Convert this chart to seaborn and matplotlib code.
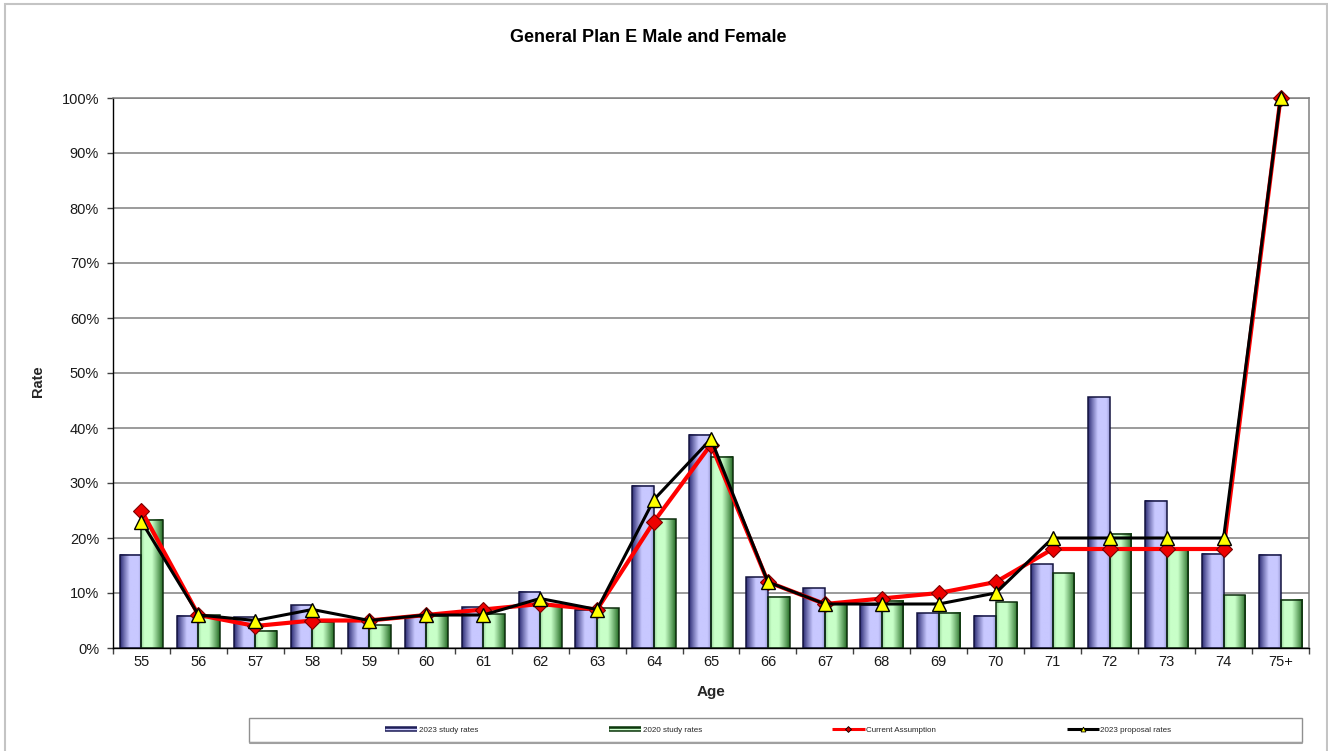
import numpy as np
import pandas as pd
import matplotlib
matplotlib.use("Agg")
import matplotlib.pyplot as plt
import seaborn as sns
from matplotlib.patches import Rectangle
from matplotlib.lines import Line2D
from matplotlib.legend_handler import HandlerTuple

# Retirement rates by age (percent)
ages = ["55", "56", "57", "58", "59", "60", "61", "62", "63", "64", "65",
        "66", "67", "68", "69", "70", "71", "72", "73", "74", "75+"]
study_2023 = [17.0, 5.9, 5.6, 7.8, 4.9, 5.8, 7.4, 10.2, 7.0, 29.5, 38.8,
              12.9, 10.9, 7.9, 6.3, 5.9, 15.2, 45.6, 26.8, 17.1, 17.0]
study_2020 = [23.3, 6.0, 3.1, 4.8, 4.1, 5.8, 6.1, 7.9, 7.2, 23.4, 34.8,
              9.3, 8.0, 8.6, 6.4, 8.3, 13.6, 20.8, 17.8, 9.6, 8.8]
current_assumption = [25, 6, 4, 5, 5, 6, 7, 8, 7, 23, 37,
                      12, 8, 9, 10, 12, 18, 18, 18, 18, 100]
proposal_2023 = [23, 6, 5, 7, 5, 6, 6, 9, 7, 27, 38,
                 12, 8, 8, 8, 10, 20, 20, 20, 20, 100]

series_names = ["2023 study rates", "2020 study rates"]
line_names = ["Current Assumption", "2023 proposal rates"]

sns.set_style("white")
plt.rcParams["font.family"] = ["Liberation Sans", "DejaVu Sans"]

W, H = 1328, 751
fig = plt.figure(figsize=(W / 100, H / 100), dpi=100)
fig.patch.set_facecolor("white")
ax = fig.add_axes([113 / W, 1 - 648 / H, (1309 - 113) / W, (648 - 98) / H])

bars = pd.DataFrame({
    "age": ages * 2,
    "rate": study_2023 + study_2020,
    "series": [series_names[0]] * len(ages) + [series_names[1]] * len(ages),
})
sns.barplot(data=bars, x="age", y="rate", hue="series", order=ages,
            hue_order=series_names, palette=["#c8c8ff", "#c8ffc8"],
            width=0.76, gap=0, linewidth=1.1, legend=False, ax=ax)

# Shaded (cylinder-like) fills for the bars
dark = {0: np.array([0x28, 0x28, 0x70]) / 255, 1: np.array([0x20, 0x68, 0x20]) / 255}
light = {0: np.array([0xc8, 0xc8, 0xff]) / 255, 1: np.array([0xc8, 0xff, 0xc8]) / 255}
edge = {0: "#141440", 1: "#0e2e0e"}
t = np.linspace(0, 1, 64)
profile = {
    0: np.clip(t / 0.45, 0, 1) ** 0.9 * (1 - 0.3 * np.clip((t - 0.85) / 0.15, 0, 1)),
    1: np.clip((1 - t) / 0.5, 0, 1) ** 0.9 * (1 - 0.3 * np.clip((0.15 - t) / 0.15, 0, 1)),
}
for k, container in enumerate(ax.containers[:2]):
    grad = dark[k][None, :] + (light[k] - dark[k])[None, :] * profile[k][:, None]
    img = grad[None, :, :]
    for patch in container:
        x0, y0 = patch.get_xy()
        w, h = patch.get_width(), patch.get_height()
        ax.imshow(img, extent=[x0, x0 + w, y0, y0 + h], aspect="auto",
                  interpolation="bilinear", zorder=1.6)
        patch.set_facecolor("none")
        patch.set_edgecolor(edge[k])
        patch.set_zorder(1.7)

# Assumption lines
sns.pointplot(x=ages, y=current_assumption, order=ages, color="#ff0000",
              markers="D", markersize=8.5, linewidth=3.0, errorbar=None,
              markerfacecolor="#ee0000", markeredgecolor="#7a0000",
              markeredgewidth=0.8, zorder=3, clip_on=False, ax=ax)
sns.pointplot(x=ages, y=proposal_2023, order=ages, color="#000000",
              markers="^", markersize=10.5, linewidth=2.2, errorbar=None,
              markerfacecolor="#ffff00", markeredgecolor="#000000",
              markeredgewidth=1.0, zorder=4, clip_on=False, ax=ax)

ax.set_xlim(-0.5, len(ages) - 0.5)
ax.set_ylim(0, 100)
ax.set_xlabel("")
ax.set_ylabel("")
ax.set_yticks(np.arange(0, 101, 10))
ax.set_yticklabels([f"{v}%" for v in range(0, 101, 10)])
ax.set_xticks(range(len(ages)))
ax.set_xticklabels(ages)
ax.set_xticks(np.arange(-0.5, len(ages), 1), minor=True)
ax.tick_params(axis="x", which="major", length=0, pad=5, labelsize=10.5,
               labelcolor="#1a1a1a", bottom=True)
ax.tick_params(axis="x", which="minor", length=4, width=1, color="#404040",
               direction="out", bottom=True)
ax.tick_params(axis="y", which="major", length=4, width=1, color="#404040",
               direction="out", pad=6, labelsize=10.5, labelcolor="#1a1a1a",
               left=True)

ax.yaxis.grid(True, color="#808080", linewidth=1.1)
ax.xaxis.grid(False)
ax.set_axisbelow(True)
for side in ("left", "bottom"):
    ax.spines[side].set_color("#000000")
    ax.spines[side].set_linewidth(1.0)
for side in ("top", "right"):
    ax.spines[side].set_color("#808080")
    ax.spines[side].set_linewidth(1.1)

# Titles
fig.text(648 / W, 1 - 37 / H, "General Plan E Male and Female", ha="center",
         va="center", fontsize=13, fontweight="bold", color="#000000")
fig.text(38 / W, 1 - 381 / H, "Rate", ha="center", va="center", rotation=90,
         fontsize=10.5, fontweight="bold")
fig.text(711 / W, 1 - 692 / H, "Age", ha="center", va="center",
         fontsize=11, fontweight="bold")

# Outer chart border
fig.patches.append(Rectangle((5 / W, -0.02), (1327 - 5) / W, 1 - 4 / H + 0.02,
                             transform=fig.transFigure, fill=False,
                             edgecolor="#c4c4c4", linewidth=1.5))

# Legend box
fig.patches.append(Rectangle((249 / W, 1 - 742 / H), (1302 - 249) / W, 24 / H,
                             transform=fig.transFigure, facecolor="white",
                             edgecolor="#909090", linewidth=1.0))
fig.lines.append(Line2D([250 / W, 1302 / W], [1 - 742.5 / H, 1 - 742.5 / H],
                        transform=fig.transFigure, color="#a0a0a0", linewidth=1.5))

handles = [
    (Line2D([], [], color="#20205a", lw=4.0, solid_capstyle="butt"),
     Line2D([], [], color="#d0d0ff", lw=1.0, solid_capstyle="butt")),
    (Line2D([], [], color="#0e3a0e", lw=4.0, solid_capstyle="butt"),
     Line2D([], [], color="#d0ffd0", lw=1.0, solid_capstyle="butt")),
    Line2D([], [], color="#ff0000", lw=2.2, marker="D", ms=3, mfc="#cc0000",
           mec="#000000", mew=0.6, solid_capstyle="butt"),
    Line2D([], [], color="#000000", lw=2.2, marker="^", ms=3.5, mfc="#ffff00",
           mec="#000000", mew=0.6, solid_capstyle="butt"),
]
leg = fig.legend(handles, series_names + line_names,
                 handler_map={tuple: HandlerTuple(ndivide=1, pad=0)},
                 loc="center left", bbox_to_anchor=(385 / W, 1 - 730 / H),
                 ncol=4, frameon=False, fontsize=5.8, handlelength=4.0,
                 handletextpad=0.2, columnspacing=16.2, borderpad=0,
                 borderaxespad=0)

fig.savefig("out.png", dpi=100)
